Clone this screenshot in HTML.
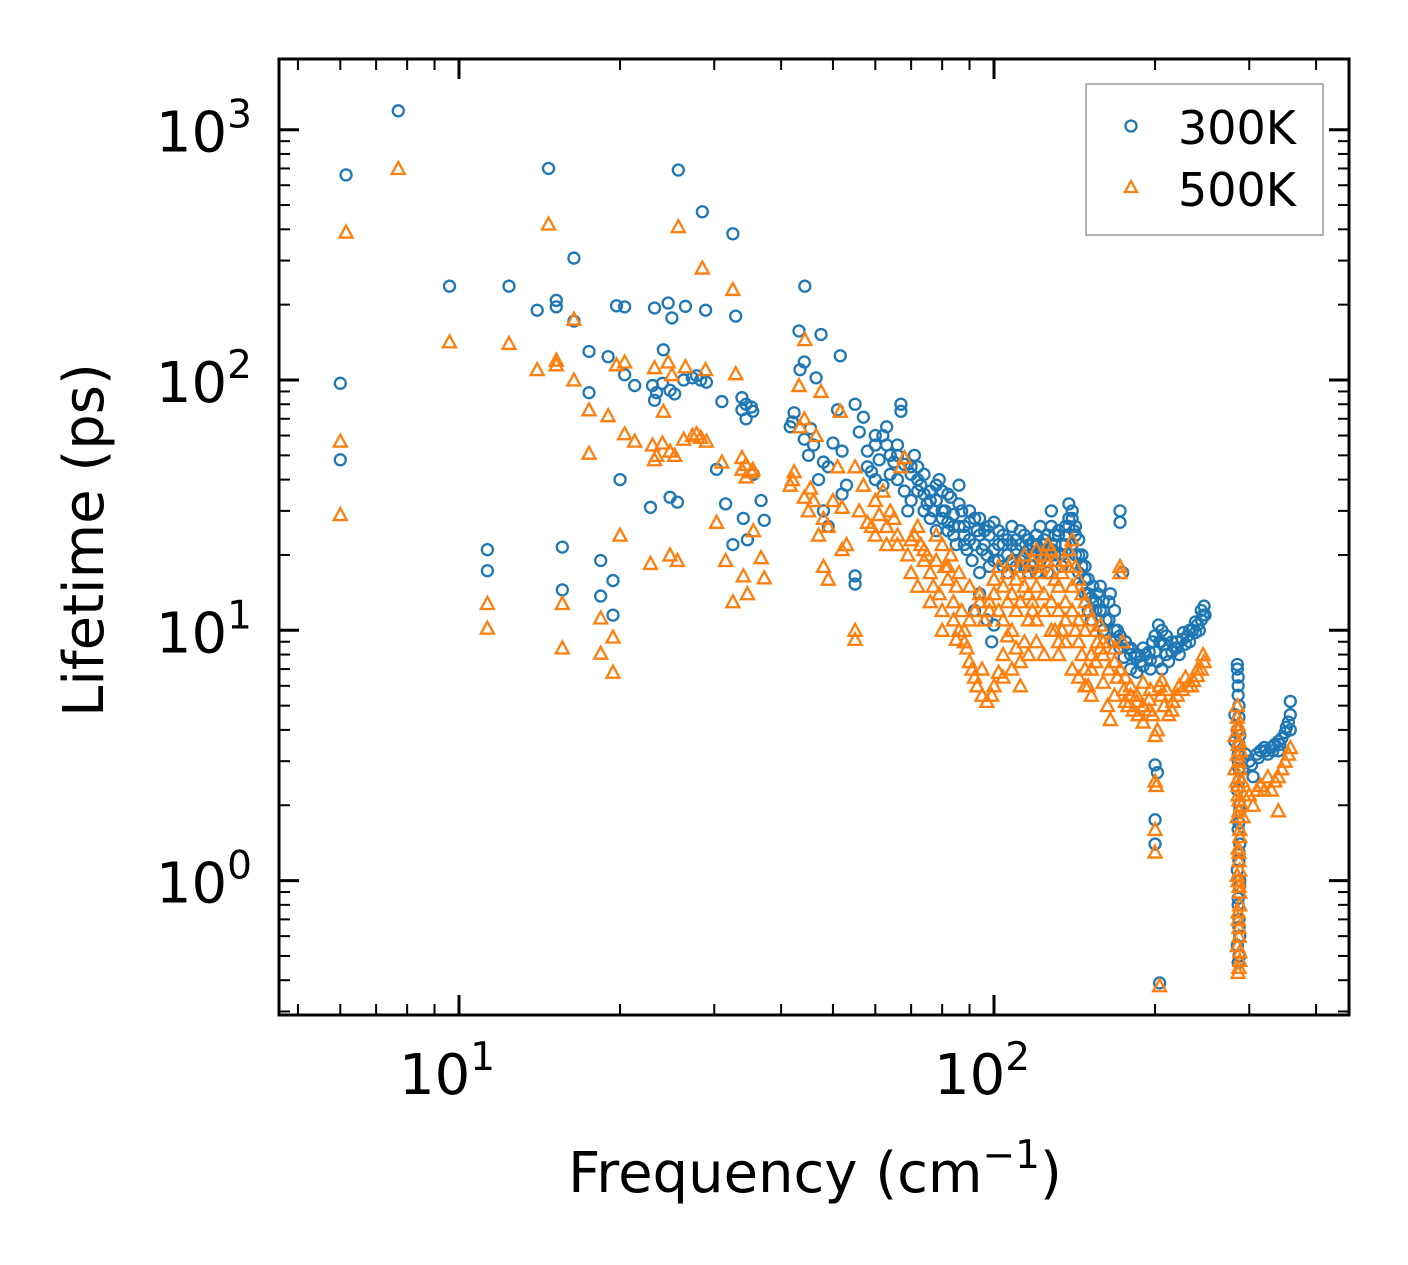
<!DOCTYPE html>
<html><head><meta charset="utf-8"><style>
html,body{margin:0;padding:0;background:#fff;}
svg{display:block;font-family:"DejaVu Sans","Liberation Sans",sans-serif;}
</style></head><body>
<svg id="chart" width="1408" height="1265" viewBox="0 0 1408 1265" xmlns="http://www.w3.org/2000/svg">
<rect x="0" y="0" width="1408" height="1265" fill="#fff"/>
<g id="marks300"></g>
<g id="marks500"></g>
<g id="axes"></g>
<text x="103" y="540" font-size="56" text-anchor="middle" transform="rotate(-90 103 540)">Lifetime (ps)</text>
<text x="815" y="1192" font-size="56" text-anchor="middle">Frequency (cm<tspan dy="-24" font-size="39">−1</tspan><tspan dy="24">)</tspan></text>
<g>
<rect x="1086" y="84" width="237" height="151" fill="#fff" stroke="#999" stroke-width="1.5"/>
<circle cx="1131" cy="126" r="5.5" fill="none" stroke="#1f77b4" stroke-width="2.3"/>
<text x="1178" y="144" font-size="46">300K</text>
<path d="M1131,181 L1137,192 L1125,192 Z" fill="none" stroke="#ff7f0e" stroke-width="2.3"/>
<text x="1178" y="206" font-size="46">500K</text>
</g>
</svg>
<script>
const freq300 = [6.0,6.0,6.15,7.7,9.6,12.4,11.3,11.3,14.0,14.7,15.2,15.2,15.6,15.6,16.4,16.4,17.5,17.5,18.4,18.4,19.0,19.4,19.4,19.7,20.4,20.4,20.0,21.3,22.8,23.2,23.0,23.4,23.2,24.1,24.6,24.0,24.8,25.3,26.5,25.7,25.0,24.8,25.6,26.3,27.3,28.3,27.8,29.0,28.5,28.9,30.3,31.0,31.5,32.5,32.9,32.5,33.8,33.8,34.4,35.2,35.4,34.4,34.0,34.6,36.7,37.2,35.5,44.3,43.2,47.5,51.6,44.2,43.4,46.5,41.6,42.0,42.3,44.2,45.4,45.0,47,46,48,49,50,51,52,48,49,52,53,55,55,
55,56,57,58,59,60,61,62,63,64,65,66,67,67,68,69,70,71,72,73,74,75,76,77,78,79,80,81,82,83,84,85,86,87,88,89,90,91,92,93,94,95,96,97,98,100,102,104,106,108,110,112,114,116,118,120,122,124,126,128,130,132,134,136,138,140,141,142,144,146,148,150,152,155,158,160,162,165,168,170,172,172,174,176,178,180,184,188,192,196,200,203,206,204,206,210,215,220,225,230,235,240,244,247,248,200,202,200,200,204,
282,282,285,286,286,287,287,286,287,288,287,288,287,288,286,287,288,287,286,290,292,
300,305,310,315,320,325,330,335,340,345,350,355,358,358,358,340,
58,60,62,64,66,68,70,72,74,76,78,80,82,84,86,88,90,92,94,96,98,100,102,104,106,108,110,112,114,116,118,120,122,124,126,128,130,132,134,136,138,140,142,144,146,148,150,152,155,158,160,164,168,172,175,180,185,190,195,198,200,202,208,212,218,222,228,232,238,242,246,97,99,100,94,92];
const life300 = [97,48,660,1190,237,237,21,17.3,190,700,208,196,21.5,14.5,307,172,130,89,19,13.7,124,15.8,11.5,198,196,105,40,95,31,194,95,89,83,132,203,97,91,88,197,690,177,34,32.5,100,102,100,104,98,470,190,44,82,32,384,180,22,85,76,80,78,75,70,28,23,33,27.5,42,237,157,152,125,118,110,102,65,68,74,58,64,50,40,55,47,45,56,76,52,30,26,35,38,16.5,15.3,
80,62,71,45,43,55,48,60,65,50,47,40,75,80,36,30,33,50,45,38,35,32,28,30,25,40,36,30,27,34,24,22,38,30,26,21,23,19,28,25,17,21,22,20,24,27,25,22,20,26,23,19,24,21,18,22,26,20,17,30,24,20,18,22,32,28,25,20,17,15,16,14,13.5,12,15,13,11,14,12,10,30,27,17,9,8.5,8,7.8,7.5,8,7.6,8.2,10.5,10,9,7,8,8.2,9,9.2,9.5,10,10.5,11,12.5,11.5,2.9,2.7,1.75,1.4,0.39,
4.6,3.6,7.3,6.5,5.5,4.5,3.5,3,2.5,2,1.7,1.4,1.2,1.0,0.85,0.7,0.6,0.5,0.47,3,2.8,
3.0,2.6,3.2,3.3,3.4,3.2,3.4,3.5,3.6,3.7,3.9,4.3,4.6,5.2,4.0,3.3,
52,40,38,42,55,46,42,40,30,36,33,30,25,29,26,22,27,22,24,25,18,21,19,24,17,22,18,25,20,17,22,17,21,23,20,26,20,24,22,26,28,22,24,20,18,14,12,11,13,12,10,11,9,8.5,7.8,7,6.8,7.2,8.2,9,9.5,7.5,8.8,7.5,8.5,8,8.8,9,9.8,10,11.5,11,9,10.5,14,12];
const freq300b = [100,102,104,106,108,110,112,114,116,118,120,122,124,126,128,130,132,134,136,138,140,142,144,146,148,150,153,156,160,164,168,172,176,180,185,190,196,205,210,215,220,226,232,238,244,
60,63,66,70,74,78,82,86,90,94,98,72,76,80,84,88,
285,286,287,285,288,286,287,285,288,286,287,285,288,286,287,285,288,
295,303,312,322,332,342,352];
const life300b = [19,22,18,23,19,21,22,18,23,20,24,19,22,24,21,22,25,20,24,26,30,26,23,20,18,16,15,14,12,13,10,9.5,9,8.5,8,8.5,7,9,9.5,9,8.5,9.8,10,10.8,12,
60,55,50,45,42,38,35,32,30,28,26,36,33,28,26,24,
7,6,5,4,3.8,3.2,2.8,2.3,1.9,1.6,1.3,1.1,0.95,0.8,0.65,0.55,0.5,
3.2,2.9,3.1,3.3,3.3,3.5,4.1];
const freq500 = [6.0,6.0,6.15,7.7,9.6,12.4,11.3,11.3,14.0,14.7,15.2,15.2,15.6,15.6,16.4,16.4,17.5,17.5,18.4,18.4,19.0,19.4,19.4,19.7,20.4,20.4,20.0,21.3,22.8,23.2,23.0,23.4,23.2,24.1,24.6,24.0,24.8,25.3,26.5,25.7,25.0,24.8,25.6,26.3,27.3,28.3,27.8,29.0,28.5,28.9,30.3,31.0,31.5,32.5,32.9,32.5,33.8,33.8,34.4,35.2,35.4,34.4,34.0,34.6,36.7,37.2,35.5,44.3,43.2,47.5,51.6,44.2,43.4,46.5,41.6,42.0,42.3,44.2,45.4,45.0,47,46,48,49,50,51,52,48,49,52,53,55,55,
55,56,57,58,59,60,61,62,63,64,65,66,67,68,69,70,71,72,73,74,75,76,77,78,79,80,81,82,83,84,85,86,87,88,89,90,91,92,93,95,97,99,100,102,104,106,108,110,112,114,116,118,120,122,124,126,128,130,132,134,136,138,140,142,144,146,148,150,152,155,158,160,163,165,168,170,172,172,174,176,178,182,186,190,195,198,200,200,201,200,200,204,202,204,206,208,212,216,220,225,230,236,240,244,247,80,85,95,
90,92,94,96,98,100,102,104,106,108,110,112,114,116,118,120,124,128,130,132,136,140,144,148,152,156,160,164,168,180,185,190,196,
282,282,285,286,286,287,287,286,287,288,287,288,287,288,286,287,288,287,286,290,292,
300,305,310,315,320,325,330,335,340,345,350,355,358,340];
const life500 = [57,29,390,700,142,140,12.8,10.2,110,420,120,115,12.8,8.5,175,100,76,51,11.2,8.1,72,9.4,6.8,115,118,61,24,57,18.5,112,55,50,48,75,118,56,52,50,113,410,105,20,19,58,60,59,61,57,280,110,27,47,19,230,106,13,49,44,46,43,44,41,16.5,14,19.5,16.2,25,145,95,90,75,70,65,60,38,40,43,34,37,30,24,33,28,26,33,45,31,18,16,21,22,10,9.2,
45,30,38,27,26,33,29,36,22,30,28,24,45,49,20,17,24,26,22,19,20,17,15,24,14,22,18,16,20,13,15,10,12,9,8.5,7.5,7,6.5,6,5.5,5.2,5.5,6,6.8,8,9.5,10,8.5,7.5,9,11,13,15,17,14,19,21,16,12,10,13,18,15,10,9,8,7,6,5.5,7.5,8.5,6.2,5,4.4,5.5,6.5,18,17,9,5.2,5,4.8,4.6,5,4.8,4.6,3.8,2.5,2.4,1.6,1.3,0.38,4,6,6.3,5,4.6,5.2,5.5,5.8,6,6.3,6.6,7,7.5,10,9.2,7,
11,12,13,11,12,14,12,11,13,14,12,13,15,14,12,11,12,13,10,9,11,12,11,10,8,9,8,7,7.5,6,5.5,6.2,5.8,
3.8,2.8,5,4.2,3.5,3,2.6,2.2,1.9,1.6,1.3,1.1,0.95,0.8,0.7,0.6,0.52,0.45,0.43,2.0,1.8,
2.2,2.0,2.3,2.4,2.3,2.6,2.3,2.5,2.6,2.8,3.0,3.2,3.4,1.9];
const freq500b = [100,102,104,106,108,110,112,114,116,118,120,122,124,126,128,130,132,134,136,138,140,142,144,146,148,150,152,155,158,160,164,168,172,176,104,108,112,116,120,124,128,132,136,140,144,148,152,
60,63,66,70,74,78,82,86,90,94,98,72,76,80,84,88,
285,286,287,285,288,286,287,285,288,286,287,285,288,286,287,285,288,286,284,289,291,293,
175,180,185,190,195,205,210,215,222,228,234,240,246];
const life500b = [16,18,15,17,19,16,18,20,17,19,21,18,20,22,17,19,15,17,19,21,23,18,16,14,13,12,11,10,10.5,9,9,8.5,7,6.5,6.5,7,6,8,9,8,10,8,9,7,6.5,6,7,
24,26,22,23,21,19,18,17,15,14,13,15,13,12,11,10,
4.5,4,3.6,3.2,2.8,2.4,2.1,1.8,1.5,1.35,1.2,1.05,0.9,0.75,0.65,0.55,0.48,1.0,2.5,3.3,2.5,2.2,
5.8,5.5,5.2,4.3,5.3,5.5,5.8,4.8,6,6.5,6,7,8];
const xTickVals = [10,100];
const xTickLabels = ["10","10"];
const xTickExp = ["1","2"];
const yTickVals = [1,10,100,1000];
const yTickExp = ["0","1","2","3"];

const NS = "http://www.w3.org/2000/svg";
const L = 279, R = 1349, T = 59, B = 1015;
const xDec = 535, x10 = 459;
const yDec = 250.3, y100 = 380;
function xs(f){ return x10 + (Math.log10(f) - 1) * xDec; }
function ys(v){ return y100 - (Math.log10(v) - 2) * yDec; }
function mk(tag, attrs){ const e = document.createElementNS(NS, tag); for (const k in attrs) e.setAttribute(k, attrs[k]); return e; }

const g3 = document.getElementById('marks300');
function drawCircles(fa, la){
  for (let i = 0; i < fa.length; i++) {
    const c = mk('circle', {cx: xs(fa[i]), cy: ys(la[i]), r: 5.5, fill: 'none', stroke: '#1f77b4', 'stroke-width': 2.3});
    
    
    g3.appendChild(c);
  }
}
drawCircles(freq300, life300);
drawCircles(freq300b, life300b);
const g5 = document.getElementById('marks500');
function drawTris(fa, la){
  for (let i = 0; i < fa.length; i++) {
    const x = xs(fa[i]), y = ys(la[i]);
    const p = mk('path', {d: `M${x},${y-6.5} L${x+6.5},${y+5.5} L${x-6.5},${y+5.5} Z`, fill: 'none', stroke: '#ff7f0e', 'stroke-width': 2.3});
    
    
    g5.appendChild(p);
  }
}
drawTris(freq500, life500);
drawTris(freq500b, life500b);

const ax = document.getElementById('axes');
const frame = mk('rect', {x: L, y: T, width: R - L, height: B - T, fill: 'none', stroke: '#000', 'stroke-width': 3});


ax.appendChild(frame);

for (let d = 0; d <= 2; d++) {
  for (let m = 1; m <= 9; m++) {
    const v = m * Math.pow(10, d);
    const x = xs(v);
    if (x < L || x > R) continue;
    const len = m === 1 ? 20 : 11;
    const w = m === 1 ? 3 : 2;
    const t1 = mk('line', {x1: x, y1: B, x2: x, y2: B - len, stroke: '#000', 'stroke-width': w});
    
    
    ax.appendChild(t1);
    const t2 = mk('line', {x1: x, y1: T, x2: x, y2: T + len, stroke: '#000', 'stroke-width': w});
    
    
    ax.appendChild(t2);
  }
}
for (let d = -1; d <= 3; d++) {
  for (let m = 1; m <= 9; m++) {
    const v = m * Math.pow(10, d);
    const y = ys(v);
    if (y < T || y > B) continue;
    const len = m === 1 ? 20 : 11;
    const w = m === 1 ? 3 : 2;
    const t1 = mk('line', {x1: L, y1: y, x2: L + len, y2: y, stroke: '#000', 'stroke-width': w});
    
    
    ax.appendChild(t1);
    const t2 = mk('line', {x1: R, y1: y, x2: R - len, y2: y, stroke: '#000', 'stroke-width': w});
    
    
    ax.appendChild(t2);
  }
}
for (let i = 0; i < xTickVals.length; i++) {
  const t = mk('text', {x: xs(xTickVals[i]) - 12, y: 1094, 'font-size': 56, 'text-anchor': 'middle'});
  t.innerHTML = xTickLabels[i] + `<tspan dy="-24" font-size="39">${xTickExp[i]}</tspan>`;
  
  
  ax.appendChild(t);
}
for (let i = 0; i < yTickVals.length; i++) {
  const t = mk('text', {x: 252, y: ys(yTickVals[i]) + 22, 'font-size': 56, 'text-anchor': 'end'});
  t.innerHTML = `10<tspan dy="-24" font-size="39">${yTickExp[i]}</tspan>`;
  
  
  ax.appendChild(t);
}
</script>
</body></html>
